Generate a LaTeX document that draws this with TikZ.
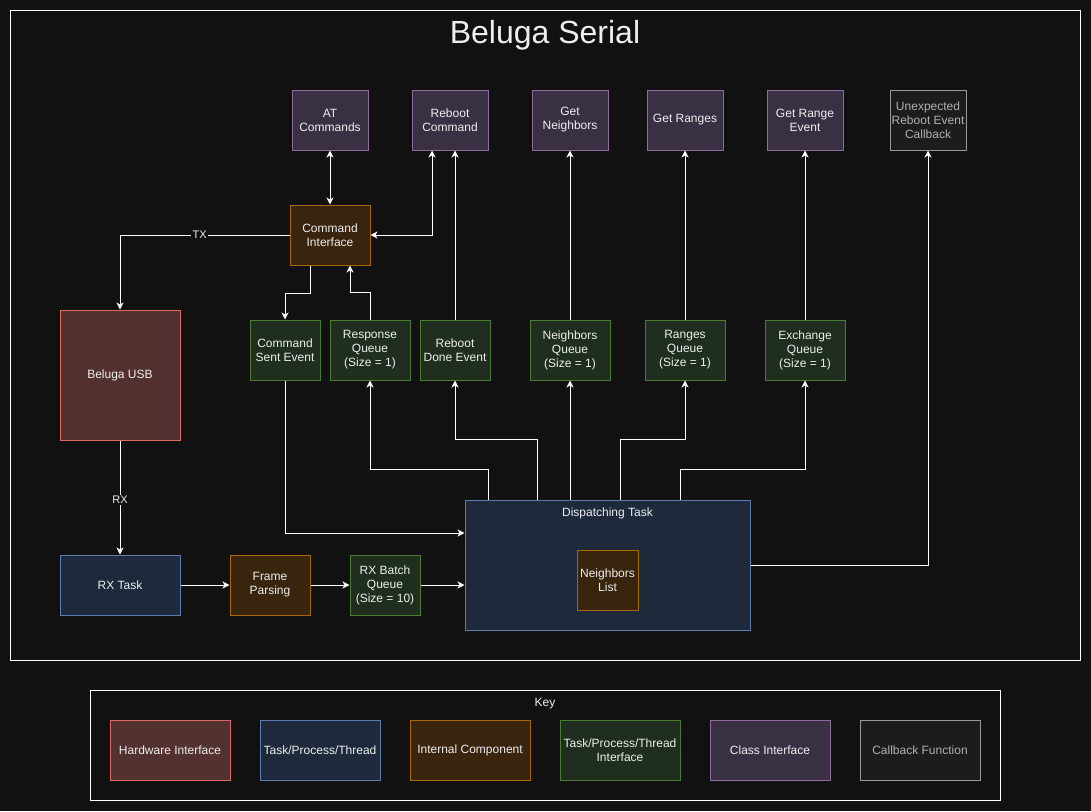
\documentclass[tikz,border=0pt]{standalone}
\usepackage{fontspec}
\setmainfont{Liberation Sans}
\usetikzlibrary{arrows.meta}
\definecolor{bg}{HTML}{111111}
\definecolor{txt}{HTML}{EEEEEE}
\definecolor{hwfill}{HTML}{533130}
\definecolor{hwdraw}{HTML}{E06A66}
\definecolor{tkfill}{HTML}{1E293B}
\definecolor{tkdraw}{HTML}{5C7DB0}
\definecolor{icfill}{HTML}{39240E}
\definecolor{icdraw}{HTML}{A86800}
\definecolor{tifill}{HTML}{1F2E1E}
\definecolor{tidraw}{HTML}{4A7E2E}
\definecolor{cifill}{HTML}{3A3044}
\definecolor{cidraw}{HTML}{8E6C9F}
\definecolor{cbfill}{HTML}{1C1C1C}
\definecolor{cbdraw}{HTML}{9A9A9A}
\definecolor{cbtext}{HTML}{B0B0B0}
\begin{document}
\begin{tikzpicture}[x=1pt,y=-1pt,
  base/.style={rectangle, line width=1pt, inner sep=0pt, align=center, text=txt,
    font=\fontsize{12}{14}\selectfont},
  hw/.style={base, fill=hwfill, draw=hwdraw},
  tk/.style={base, fill=tkfill, draw=tkdraw},
  ic/.style={base, fill=icfill, draw=icdraw},
  ti/.style={base, fill=tifill, draw=tidraw},
  ci/.style={base, fill=cifill, draw=cidraw},
  cb/.style={base, fill=cbfill, draw=cbdraw, text=cbtext},
  wire/.style={draw=white, line width=1pt, -{Stealth[length=7pt,width=7pt,inset=2pt]}},
  wireboth/.style={draw=white, line width=1pt, {Stealth[length=7pt,width=7pt,inset=2pt]}-{Stealth[length=7pt,width=7pt,inset=2pt]}},
  lab/.style={fill=bg, text=txt, inner sep=1.5pt, font=\fontsize{11}{13}\selectfont},
  frame/.style={draw=white, line width=1pt}
]
\useasboundingbox (0,0) rectangle (1091,811);
\fill[bg] (0,0) rectangle (1091,811);
\draw[frame] (10,10) rectangle (1080,660);
\draw[frame] (90,690) rectangle (1000,800);

\node[text=txt, font=\fontsize{32}{36}\selectfont] (title) at (545,35) {Beluga Serial};

% top row: class interfaces
\node[ci, minimum width=76, minimum height=60] (at) at (330,120) {AT\\Commands};
\node[ci, minimum width=76, minimum height=60] (rc) at (450,120) {Reboot\\Command};
\node[ci, minimum width=76, minimum height=60] (gn) at (570,120) {Get\\Neighbors};
\node[ci, minimum width=76, minimum height=60] (gr) at (685,120) {Get Ranges};
\node[ci, minimum width=76, minimum height=60] (gre) at (805,120) {Get Range\\Event};
\node[cb, minimum width=76, minimum height=60] (cbk) at (928,120) {Unexpected\\Reboot Event\\Callback};

\node[ic, minimum width=80, minimum height=60] (cmd) at (330,235) {Command\\Interface};

% middle row
\node[ti, minimum width=70, minimum height=60] (cse) at (285,350) {Command\\Sent Event};
\node[ti, minimum width=80, minimum height=60] (rq) at (370,350) {Response\\Queue\\(Size = 1)};
\node[ti, minimum width=70, minimum height=60] (rde) at (455,350) {Reboot\\Done Event};
\node[ti, minimum width=80, minimum height=60] (nq) at (570,350) {Neighbors\\Queue\\(Size = 1)};
\node[ti, minimum width=80, minimum height=60] (rgq) at (685,350) {Ranges\\Queue\\(Size = 1)};
\node[ti, minimum width=80, minimum height=60] (exq) at (805,350) {Exchange\\Queue\\(Size = 1)};

\node[hw, minimum width=120, minimum height=130] (usb) at (120,375) {Beluga USB};

% bottom row
\node[tk, minimum width=120, minimum height=60] (rxt) at (120,585) {RX Task};
\node[ic, minimum width=80, minimum height=60] (fp) at (270,585) {Frame\\Parsing};
\node[ti, minimum width=70, minimum height=60] (rxb) at (385,585) {RX Batch\\Queue\\(Size = 10)};
\node[tk, minimum width=285, minimum height=130] (disp) at (607.5,565) {};
\node[text=txt, font=\fontsize{12}{14}\selectfont] (displab) at (607.5,513.5) {Dispatching Task};
\node[ic, minimum width=61, minimum height=60] (nl) at (607.5,580) {Neighbors\\List};

% key
\node[text=txt, font=\fontsize{12}{14}\selectfont] (key) at (545,704) {Key};
\node[hw, minimum width=120, minimum height=60] (k1) at (170,750) {Hardware Interface};
\node[tk, minimum width=120, minimum height=60] (k2) at (320,750) {Task/Process/Thread};
\node[ic, minimum width=120, minimum height=60] (k3) at (470,750) {Internal Component};
\node[ti, minimum width=120, minimum height=60] (k4) at (620,750) {Task/Process/Thread\\Interface};
\node[ci, minimum width=120, minimum height=60] (k5) at (770,750) {Class Interface};
\node[cb, minimum width=120, minimum height=60] (k6) at (920,750) {Callback Function};

% connectors
\draw[wireboth] (at.south) -- (cmd.north);
\draw[wireboth] (cmd.east) -| ([xshift=-18pt]rc.south);
\draw[wire] ([xshift=5pt]rc.south |- rde.north) -- ([xshift=5pt]rc.south);
\draw[wire] (cmd.west) -| node[lab, pos=0.265] {TX} (usb.north);
\draw[wire] ([xshift=-20pt]cmd.south) -- ++(0,28) -| (cse.north);
\draw[wire] (rq.north) -- ++(0,-27) -| ([xshift=20pt]cmd.south);
\draw[wire] (usb.south) -- node[lab, pos=0.52] {RX} (rxt.north);
\draw[wire] (rxt.east) -- (fp.west);
\draw[wire] (fp.east) -- (rxb.west);
\draw[wire] (rxb.east) -- (rxb.east -| disp.west);
\draw[wire] (cse.south) |- ([yshift=32pt]disp.west);
\draw[wire] ([xshift=-119.5pt]disp.north) -- ++(0,-30) -| (rq.south);
\draw[wire] ([xshift=-70.5pt]disp.north) -- ++(0,-60) -| (rde.south);
\draw[wire] ([xshift=-37.5pt]disp.north) -- (nq.south);
\draw[wire] ([xshift=12.5pt]disp.north) -- ++(0,-60) -| (rgq.south);
\draw[wire] ([xshift=72.5pt]disp.north) -- ++(0,-30) -| (exq.south);
\draw[wire] (disp.east) -| (cbk.south);
\draw[wire] (nq.north) -- (gn.south);
\draw[wire] (rgq.north) -- (gr.south);
\draw[wire] (exq.north) -- (gre.south);
\end{tikzpicture}
\end{document}
